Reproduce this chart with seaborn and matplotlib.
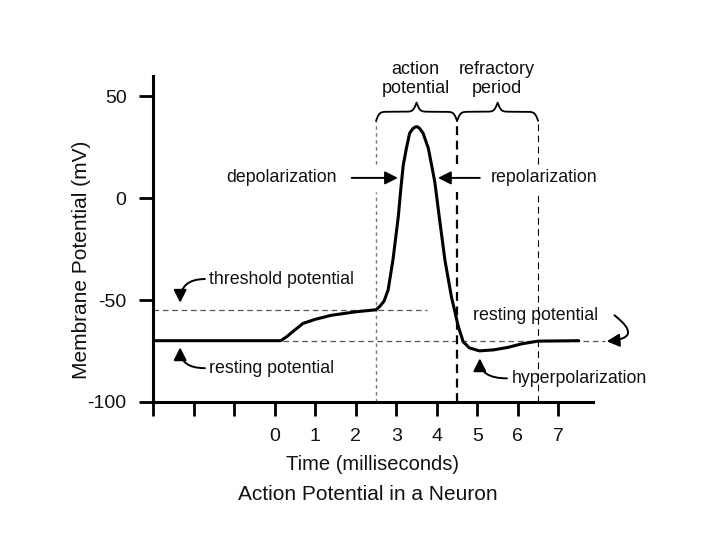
import numpy as np
import pandas as pd
import matplotlib
matplotlib.use("Agg")
import matplotlib.pyplot as plt
import seaborn as sns

# membrane potential trace
time_ms = [-3.0, 0.15, 0.3, 0.45, 0.7, 1.0, 1.4, 2.0, 2.5, 2.6, 2.7, 2.8, 2.92,
           3.05, 3.1, 3.17, 3.25, 3.33, 3.41, 3.46, 3.5, 3.54, 3.58, 3.66, 3.79,
           3.87, 3.95, 4.07, 4.2, 4.36, 4.53, 4.65, 4.8, 5.05, 5.4, 5.75, 6.1,
           6.5, 7.5]
membrane_mv = [-70, -70, -68, -65.5, -61.5, -59.5, -57.5, -55.8, -54.8, -53, -50.5,
               -45, -30, -9, 2, 16, 24.6, 32, 34.2, 34.9, 35.2, 34.9, 34.2, 32, 24.6,
               16.4, 8, -10.7, -30.4, -48.4, -63, -70.5, -73.5, -75, -74.5, -73.3,
               -71.5, -70.2, -70]

yticks = [-100, -50, 0, 50]
xticks = list(range(-3, 8))
xtick_labels = ["", "", ""] + [str(i) for i in range(8)]
phase_bounds = [2.5, 4.5, 6.5]
brace_labels = ["action\npotential", "refractory\nperiod"]
resting_mv = -70
threshold_mv = -55

sns.set_theme(style="ticks")
plt.rcParams["font.family"] = ["Liberation Sans", "DejaVu Sans"]
plt.rcParams["axes.unicode_minus"] = False
txt = "#111111"
fs_note = 12.8

fig = plt.figure(figsize=(7.2, 5.4), dpi=100)
ax = fig.add_axes([0.2125, 0.256, 0.611, 0.603])

df = pd.DataFrame({"t": time_ms, "v": membrane_mv})

# guide lines
ax.plot([-3, 3.75], [threshold_mv, threshold_mv], color="#555555", lw=0.9,
        ls=(0, (4.5, 3)), zorder=1)
ax.plot([0.2, 8.15], [resting_mv, resting_mv], color="#555555", lw=0.9,
        ls=(0, (4.5, 3)), zorder=1, clip_on=False)

vstyles = [dict(color="#777777", lw=1.0, ls=(0, (2.5, 2.5))),
           dict(color="black", lw=1.6, ls=(0, (4, 2.5))),
           dict(color="black", lw=0.8, ls=(0, (6, 4)))]
for xb, st in zip(phase_bounds, vstyles):
    ax.plot([xb, xb], [-100, 3], zorder=1, **st)
    ax.plot([xb, xb], [17, 38], zorder=1, **st)

sns.lineplot(data=df, x="t", y="v", color="black", lw=2.2, sort=False,
             estimator=None, ax=ax, zorder=3)


def draw_brace(ax, x0, x1, y_end, y_tip, beta=24):
    xs = np.linspace(x0, x1, 301)
    xh = xs[:151]
    yh = 1 / (1 + np.exp(-beta * (xh - xh[0]))) + 1 / (1 + np.exp(-beta * (xh - xh[-1])))
    yy = np.concatenate((yh, yh[-2::-1]))
    yy = y_end + (yy - 0.5) * (y_tip - y_end)
    ax.plot(xs, yy, color="black", lw=1.3, clip_on=False)


for i, lab in enumerate(brace_labels):
    x0, x1 = phase_bounds[i], phase_bounds[i + 1]
    draw_brace(ax, x0, x1, 38, 47)
    ax.text((x0 + x1) / 2 - 0.02, 58.5, lab, ha="center", va="center", fontsize=13,
            color=txt, linespacing=1.15)

# annotations
arrow_kw = dict(arrowstyle="-|>,head_length=0.55,head_width=0.28", color="black",
                lw=1.4, mutation_scale=14, shrinkA=0, shrinkB=0)
ax.text(0.16, 10, "depolarization", ha="center", va="center", fontsize=fs_note, color=txt)
ax.annotate("", xy=(3.04, 10), xytext=(1.9, 10), arrowprops=arrow_kw)
ax.text(6.64, 10, "repolarization", ha="center", va="center", fontsize=fs_note, color=txt)
ax.annotate("", xy=(4.03, 10), xytext=(5.06, 10), arrowprops=arrow_kw)

ax.text(-1.63, -39.7, "threshold potential", ha="left", va="center", fontsize=fs_note, color=txt)
ax.annotate("", xy=(-2.33, -51.3), xytext=(-1.72, -39.7),
            arrowprops=dict(connectionstyle="angle3,angleA=0,angleB=90", **arrow_kw))
ax.text(-1.63, -83.5, "resting potential", ha="left", va="center", fontsize=fs_note, color=txt)
ax.annotate("", xy=(-2.33, -73.3), xytext=(-1.72, -83.5),
            arrowprops=dict(connectionstyle="angle3,angleA=0,angleB=90", **arrow_kw))
ax.text(4.89, -57.5, "resting potential", ha="left", va="center", fontsize=fs_note, color=txt)
ax.annotate("", xy=(8.19, -70.3), xytext=(8.38, -57.5), annotation_clip=False,
            arrowprops=dict(connectionstyle="arc3,rad=-1.3", **arrow_kw))
ax.text(5.85, -88.5, "hyperpolarization", ha="left", va="center", fontsize=fs_note, color=txt)
ax.annotate("", xy=(5.06, -78.7), xytext=(5.73, -88.5),
            arrowprops=dict(connectionstyle="angle3,angleA=0,angleB=90", **arrow_kw))

# axes
ax.set_xlim(-3, 7.85)
ax.set_ylim(-100, 60)
ax.set_xticks(xticks)
ax.set_xticklabels(xtick_labels)
ax.set_yticks(yticks)
ax.tick_params(direction="out", length=10, width=2.0, labelsize=14, pad=9,
               color="black", labelcolor=txt)
for side in ["top", "right"]:
    ax.spines[side].set_visible(False)
for side in ["left", "bottom"]:
    ax.spines[side].set_linewidth(2.2)
    ax.spines[side].set_color("black")
ax.set_xlabel("Time (milliseconds)", fontsize=14.5, color=txt, labelpad=7)
ax.set_ylabel("Membrane Potential (mV)", fontsize=15, color=txt)
ax.yaxis.set_label_coords(-0.14, 0.435)
fig.text(0.511, 0.085, "Action Potential in a Neuron", ha="center", va="center",
         fontsize=15, color=txt)

fig.savefig("out.png", dpi=100)
